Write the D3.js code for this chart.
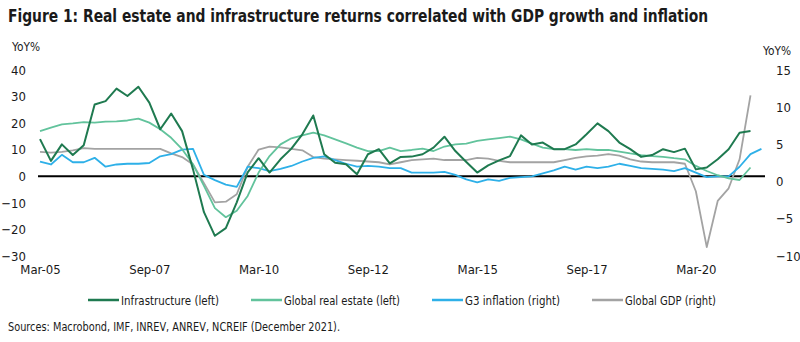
<!DOCTYPE html>
<html lang="en">
<head>
    <meta charset="UTF-8">
    <title>Figure 1</title>
    <script src="https://d3js.org/d3.v7.min.js"></script>
    <style>
        body { margin: 0; background: #fff; }
        text { font-family: "DejaVu Sans Condensed", "DejaVu Sans", sans-serif; fill: #1a1a1a; }
    </style>
</head>
<body>
<script>
    // quarterly series, Mar-05 onwards
    var infrastructure = [14, 5.8, 12, 8, 11.7, 27, 28.3, 33, 30.2, 33.7, 27.7, 17.7, 23.6, 17, 2.6, -13.5, -22.4, -19.5, -9.8, 1.5,
        6.8, 1.4, 6.4, 10.4, 15.8, 22.9, 8.3, 5.1, 4.5, 0.75, 8.3, 10.2, 4.9, 7.3, 7.4, 8.3, 10.8, 14.9, 9.5, 5.4,
        1.4, 4.1, 6, 7.6, 15.4, 12, 12.7, 10.2, 10.2, 12, 15.8, 19.9, 17, 12.7, 10.2, 7.3, 8, 10.2, 9.1, 10.4,
        2.6, 3.3, 6.4, 10.2, 16.4, 17];
    var realEstate = [17, 18.3, 19.5, 19.9, 20.4, 20.2, 20.6, 20.7, 21, 21.7, 20.2, 17.7, 14.5, 10.2, 4.5, -3.6, -12, -15.4, -13, -7.4,
        1.4, 7.6, 12, 14.3, 15.4, 16.4, 15.4, 13.9, 12.4, 10.8, 9.5, 9.5, 10.8, 9.5, 9.9, 10.4, 9.5, 11.2, 12, 12.3,
        13.3, 13.9, 14.4, 14.9, 13.9, 12.3, 10.8, 10.2, 10.2, 9.9, 10.2, 9.9, 9.9, 9.3, 8.6, 8, 7.6, 7.3, 6.8, 6.4,
        3.9, 2, 0.4, -0.75, -1.4, 3.3];
    var inflation = [2.7, 2.3, 3.6, 2.6, 2.6, 3.2, 2, 2.3, 2.4, 2.4, 2.5, 3.4, 3.7, 4.3, 4.4, 0.9, 0.2, -0.4, -0.7, 2,
        1.8, 1.4, 1.7, 2.1, 2.7, 3.2, 3.4, 2.9, 2.4, 2, 2.1, 2, 1.8, 1.8, 1.2, 1.2, 1.2, 1.3, 0.9, 0.3,
        -0.1, 0.3, 0.1, 0.5, 0.6, 0.7, 1.1, 1.5, 2, 1.6, 2, 1.8, 2, 2.4, 2.1, 1.8, 1.7, 1.6, 1.4, 1.8,
        1.2, 0.6, 0.7, 0.7, 2, 3.7, 4.4];
    var gdp = [4, 3.9, 4, 4.2, 4.5, 4.4, 4.4, 4.4, 4.4, 4.4, 4.4, 4.4, 3.8, 3.3, 2.3, -0.2, -2.8, -2.7, -1.7, 2,
        4.3, 4.7, 4.6, 4.4, 4.2, 3.3, 3.1, 3, 2.9, 2.8, 2.7, 2.6, 2.3, 2.6, 2.9, 3, 3.1, 2.9, 2.9, 2.9,
        3.2, 3.1, 2.8, 2.6, 2.6, 2.6, 2.6, 2.6, 2.9, 3.2, 3.4, 3.5, 3.7, 3.5, 3, 2.7, 2.6, 2.6, 2.6, 2.4,
        -1.3, -8.8, -2.6, -0.9, 3, 11.6];

    var xTickLabels = ['Mar-05', 'Sep-07', 'Mar-10', 'Sep-12', 'Mar-15', 'Sep-17', 'Mar-20'];
    var xTickSteps = [0, 10, 20, 30, 40, 50, 60];
    var leftTicks = [-30, -20, -10, 0, 10, 20, 30, 40];
    var rightTicks = [-10, -5, 0, 5, 10, 15];

    var series = [
        {name: 'Global GDP (right)', values: gdp, axis: 'right', color: '#a3a3a3', width: 1.8},
        {name: 'G3 inflation (right)', values: inflation, axis: 'right', color: '#2eb0e8', width: 1.8},
        {name: 'Global real estate (left)', values: realEstate, axis: 'left', color: '#62c39c', width: 1.8},
        {name: 'Infrastructure (left)', values: infrastructure, axis: 'left', color: '#1f7a50', width: 2}
    ];
    var legendOrder = [3, 2, 1, 0];

    var width = 800, height = 342;
    var svg = d3.select('body').append('svg').attr('width', width).attr('height', height);

    // x: quarter index, y: two independent value scales over the same pixel band
    var x = d3.scaleLinear().domain([0, 65]).range([40, 750.5]);
    var yLeft = d3.scaleLinear().domain([-30, 40]).range([256, 70]);
    var yRight = d3.scaleLinear().domain([-10, 15]).range([256, 70]);

    // title, squeezed to the narrow width of the house font
    svg.append('text')
        .attr('x', 8).attr('y', 22)
        .attr('font-size', '17px').attr('font-weight', 'bold')
        .attr('textLength', 700).attr('lengthAdjust', 'spacingAndGlyphs')
        .text('Figure 1: Real estate and infrastructure returns correlated with GDP growth and inflation');

    svg.append('text').attr('x', 12).attr('y', 51).attr('font-size', '12px')
        .attr('textLength', 28).attr('lengthAdjust', 'spacingAndGlyphs').text('YoY%');
    svg.append('text').attr('x', 763).attr('y', 55).attr('font-size', '12px')
        .attr('textLength', 28).attr('lengthAdjust', 'spacingAndGlyphs').text('YoY%');

    // left axis labels
    var leftAxis = d3.axisLeft(yLeft).tickValues(leftTicks).tickSize(0).tickPadding(0);
    var gl = svg.append('g').attr('transform', 'translate(26,0)').call(leftAxis);
    gl.select('.domain').remove();
    gl.selectAll('text').attr('font-size', '13px').attr('font-family', null);

    // right axis labels
    var rightAxis = d3.axisRight(yRight).tickValues(rightTicks).tickSize(0).tickPadding(0);
    var gr = svg.append('g').attr('transform', 'translate(776,0)').call(rightAxis);
    gr.select('.domain').remove();
    gr.selectAll('text').attr('font-size', '13px').attr('font-family', null);

    // x axis labels
    var bottomAxis = d3.axisBottom(x).tickValues(xTickSteps).tickFormat(function (d, i) { return xTickLabels[i]; })
        .tickSize(0).tickPadding(0);
    var gb = svg.append('g').attr('transform', 'translate(0,265)').call(bottomAxis);
    gb.select('.domain').remove();
    gb.selectAll('text').attr('font-size', '13px').attr('font-family', null);

    // zero line
    svg.append('line')
        .attr('x1', 38).attr('x2', 765)
        .attr('y1', yLeft(0)).attr('y2', yLeft(0))
        .attr('stroke', '#000').attr('stroke-width', 2);

    // series lines
    series.forEach(function (s) {
        var y = s.axis === 'left' ? yLeft : yRight;
        var line = d3.line().x(function (d, i) { return x(i); }).y(function (d) { return y(d); });
        svg.append('path')
            .datum(s.values)
            .attr('fill', 'none')
            .attr('stroke', s.color)
            .attr('stroke-width', s.width)
            .attr('stroke-linejoin', 'round')
            .attr('d', line);
    });

    // legend
    var legendX = [88, 251, 432, 592];
    var legendW = [98, 116, 95, 91];
    var legend = svg.append('g');
    legendOrder.forEach(function (k, j) {
        var s = series[k];
        legend.append('line')
            .attr('x1', legendX[j]).attr('x2', legendX[j] + 31)
            .attr('y1', 300).attr('y2', 300)
            .attr('stroke', s.color).attr('stroke-width', 2.5);
        legend.append('text')
            .attr('x', legendX[j] + 33).attr('y', 304.5)
            .attr('font-size', '13px')
            .attr('textLength', legendW[j]).attr('lengthAdjust', 'spacingAndGlyphs')
            .text(s.name);
    });

    svg.append('text')
        .attr('x', 8).attr('y', 331)
        .attr('font-size', '13px')
        .attr('textLength', 332).attr('lengthAdjust', 'spacingAndGlyphs')
        .text('Sources: Macrobond, IMF, INREV, ANREV, NCREIF (December 2021).');
</script>
</body>
</html>
